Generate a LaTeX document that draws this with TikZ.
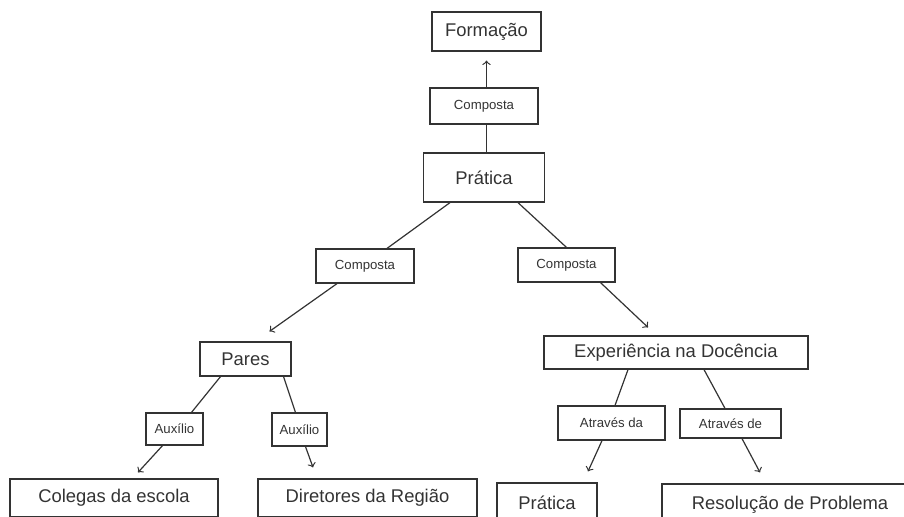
\documentclass[tikz,border=0pt]{standalone}
\usepackage{fontspec}
\setmainfont{Liberation Sans}
\usetikzlibrary{arrows}
\definecolor{ink}{HTML}{333333}

\begin{document}
\begin{tikzpicture}[x=0.5pt,y=-0.5pt,
        box/.style={draw=ink,line width=0.6pt,inner sep=0pt,text=ink,font=\fontsize{9.2}{11}\selectfont},
        lbl/.style={draw=ink,line width=0.6pt,inner sep=0pt,text=ink,font=\fontsize{6.6}{8}\selectfont},
        link/.style={ink,line width=0.6pt},
        arr/.style={->,ink,line width=0.6pt}]
                \useasboundingbox (0,0) rectangle (904,516);
                \clip (0,0) rectangle (904,516);
                \node[box,minimum width=54.5pt,minimum height=19.5pt] (form) at (486.5,31.5) {Formação};
                \node[lbl,minimum width=54pt,minimum height=18pt] (ctop) at (484,106) {Composta};
                \node[box,minimum width=60.5pt,minimum height=24.5pt] (prat) at (484,177.5) {Prática};
                \node[lbl,minimum width=49pt,minimum height=17pt] (cleft) at (365,266) {Composta};
                \node[lbl,minimum width=48.5pt,minimum height=17pt] (cright) at (566.5,265) {Composta};
                \node[box,minimum width=45.5pt,minimum height=17pt] (pares) at (245.5,359) {Pares};
                \node[box,minimum width=132pt,minimum height=16.5pt] (exp) at (676,352.5) {Experiência na Docência};
                \node[lbl,minimum width=28.5pt,minimum height=16pt] (auxa) at (174.5,429) {Auxílio};
                \node[lbl,minimum width=27.5pt,minimum height=16.5pt] (auxb) at (299.5,429.5) {Auxílio};
                \node[lbl,minimum width=53.5pt,minimum height=17pt] (atda) at (611.5,423) {Através da};
                \node[lbl,minimum width=50.5pt,minimum height=14.5pt] (atde) at (730.5,423.5) {Através de};
                \node[box,minimum width=104pt,minimum height=19pt] (coleg) at (114,498) {Colegas da escola};
                \node[box,minimum width=109.5pt,minimum height=19pt] (diret) at (367.5,498) {Diretores da Região};
                \node[box,minimum width=50pt,minimum height=20pt] (pratb) at (547,503) {Prática};
                \node[box,minimum width=128pt,minimum height=21pt] (resol) at (790,505) {Resolução de Problema};
                \draw[arr] (form.south |- ctop.north) -- ([yshift=-4.5pt]form.south);
                \draw[link] (form.south |- prat.north) -- (form.south |- ctop.south);
                \draw[link] ([xshift=-17pt]prat.south) -- ([xshift=11pt]cleft.north);
                \draw[arr] ([xshift=-14pt]cleft.south) -- ([xshift=12pt,yshift=5pt]pares.north);
                \draw[link] ([xshift=17pt]prat.south) -- (cright.north);
                \draw[arr] ([xshift=17pt]cright.south) -- ([xshift=-14pt,yshift=4pt]exp.north);
                \draw[link] ([xshift=-12.5pt]pares.south) -- ([xshift=8.5pt]auxa.north);
                \draw[arr] ([xshift=-6pt]auxa.south) -- ([xshift=12pt,yshift=3pt]coleg.north);
                \draw[link] ([xshift=19pt]pares.south) -- ([xshift=-2pt]auxb.north);
                \draw[arr] ([xshift=3pt]auxb.south) -- ([xshift=-27.25pt,yshift=5.5pt]diret.north);
                \draw[link] ([xshift=-24pt]exp.south) -- ([xshift=1.75pt]atda.north);
                \draw[arr] ([xshift=-4.75pt]atda.south) -- ([xshift=20.5pt,yshift=5.5pt]pratb.north);
                \draw[link] ([xshift=14pt]exp.south) -- ([xshift=-2.75pt]atde.north);
                \draw[arr] ([xshift=5.75pt]atde.south) -- ([xshift=-15pt,yshift=5.5pt]resol.north);
        \end{tikzpicture}
\end{document}
